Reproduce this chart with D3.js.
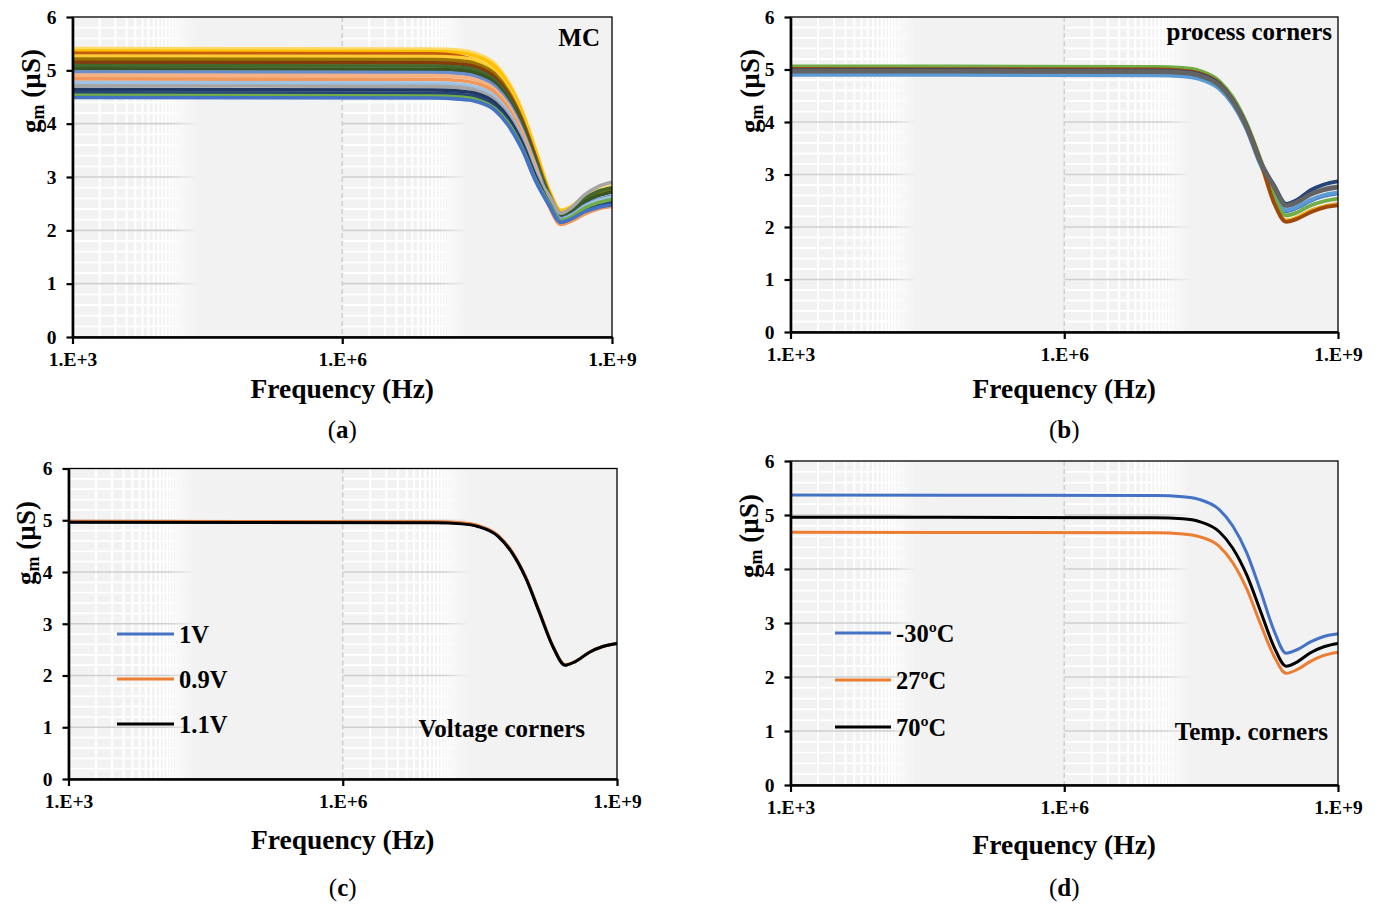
<!DOCTYPE html>
<html>
<head>
<meta charset="utf-8">
<script src="https://cdn.jsdelivr.net/npm/d3@7"></script>
<style>
  body { margin: 0; background: #fff; }
  svg text { font-family: "Liberation Serif", "Times New Roman", serif; fill: #000; }
</style>
</head>
<body>
<svg id="fig" width="1379" height="904"></svg>
<script>
// ---- shared axes -------------------------------------------------------
const freq = [1e3, 1e7, 2e7, 3e7, 5e7, 7e7, 1e8, 1.4e8, 2e8, 2.7e8, 3.5e8, 5e8, 7e8, 1e9];
const xTicks = [1e3, 1e6, 1e9];
const xTickLabels = ["1.E+3", "1.E+6", "1.E+9"];
const yTicks = [0, 1, 2, 3, 4, 5, 6];

// ---- (a) Monte Carlo runs, gm in µS ---------------------------------------
const mcColors = ["#FFD966", "#FFC000", "#C55A11", "#FFCD33", "#997300", "#843C0C", "#43682B", "#375623",
                  "#698ED0", "#F4B183", "#F1975A", "#9DC3E6", "#A5A5A5", "#203864", "#264478", "#70AD47", "#4472C4"];
const mcRuns = [
  [5.41, 5.40, 5.38, 5.32, 5.12, 4.79, 4.25, 3.54, 2.76, 2.38, 2.45, 2.64, 2.76, 2.82],
  [5.36, 5.35, 5.33, 5.27, 5.07, 4.75, 4.21, 3.51, 2.74, 2.36, 2.43, 2.61, 2.72, 2.78],
  [5.32, 5.31, 5.27, 5.18, 4.92, 4.52, 3.92, 3.20, 2.50, 2.22, 2.28, 2.45, 2.55, 2.60],
  [5.27, 5.26, 5.24, 5.19, 4.98, 4.67, 4.14, 3.45, 2.70, 2.33, 2.40, 2.59, 2.70, 2.76],
  [5.21, 5.20, 5.18, 5.13, 4.93, 4.61, 4.09, 3.41, 2.69, 2.32, 2.39, 2.57, 2.68, 2.74],
  [5.15, 5.14, 5.12, 5.07, 4.87, 4.56, 4.04, 3.37, 2.56, 2.20, 2.26, 2.43, 2.53, 2.58],
  [5.09, 5.08, 5.06, 5.01, 4.81, 4.51, 3.99, 3.33, 2.66, 2.30, 2.38, 2.60, 2.73, 2.80],
  [5.03, 5.02, 5.00, 4.95, 4.76, 4.45, 3.95, 3.29, 2.61, 2.26, 2.34, 2.53, 2.65, 2.72],
  [4.97, 4.96, 4.94, 4.89, 4.70, 4.40, 3.90, 3.25, 2.57, 2.22, 2.29, 2.47, 2.58, 2.64],
  [4.91, 4.90, 4.88, 4.83, 4.64, 4.35, 3.85, 3.21, 2.49, 2.14, 2.20, 2.35, 2.45, 2.50],
  [4.84, 4.83, 4.81, 4.76, 4.58, 4.28, 3.80, 3.16, 2.45, 2.11, 2.17, 2.31, 2.40, 2.45],
  [4.77, 4.76, 4.74, 4.69, 4.51, 4.22, 3.74, 3.12, 2.54, 2.20, 2.27, 2.45, 2.56, 2.62],
  [4.71, 4.70, 4.68, 4.63, 4.45, 4.17, 3.70, 3.08, 2.65, 2.32, 2.42, 2.67, 2.82, 2.90],
  [4.64, 4.63, 4.61, 4.57, 4.39, 4.11, 3.64, 3.03, 2.51, 2.18, 2.24, 2.40, 2.50, 2.55],
  [4.58, 4.57, 4.55, 4.51, 4.33, 4.05, 3.59, 2.99, 2.48, 2.16, 2.22, 2.37, 2.47, 2.52],
  [4.53, 4.52, 4.50, 4.46, 4.28, 4.01, 3.55, 2.96, 2.50, 2.18, 2.25, 2.42, 2.52, 2.58],
  [4.49, 4.48, 4.46, 4.42, 4.25, 3.97, 3.52, 2.94, 2.47, 2.15, 2.21, 2.35, 2.43, 2.48]
];

// ---- (b) process corners ----------------------------------------------
const cornerColors = ["#4472C4", "#ED7D31", "#A5A5A5", "#FFC000", "#5B9BD5", "#70AD47", "#9E480E", "#264478", "#636363"];
const cornerRuns = [
  [4.93, 4.92, 4.90, 4.85, 4.66, 4.36, 3.87, 3.22, 2.65, 2.30, 2.36, 2.50, 2.59, 2.64],
  [4.98, 4.97, 4.95, 4.90, 4.71, 4.41, 3.91, 3.26, 2.47, 2.12, 2.17, 2.31, 2.39, 2.44],
  [5.00, 4.99, 4.97, 4.92, 4.73, 4.43, 3.92, 3.27, 2.75, 2.40, 2.46, 2.63, 2.73, 2.78],
  [4.96, 4.95, 4.93, 4.88, 4.69, 4.39, 3.89, 3.24, 2.47, 2.12, 2.17, 2.30, 2.38, 2.42],
  [4.90, 4.89, 4.87, 4.82, 4.63, 4.34, 3.85, 3.20, 2.67, 2.32, 2.38, 2.52, 2.61, 2.66],
  [5.06, 5.05, 5.03, 4.98, 4.78, 4.48, 3.97, 3.31, 2.58, 2.22, 2.27, 2.41, 2.49, 2.54],
  [5.01, 5.00, 4.98, 4.93, 4.74, 4.43, 3.93, 3.28, 2.45, 2.10, 2.15, 2.28, 2.37, 2.41],
  [4.99, 4.98, 4.96, 4.91, 4.72, 4.42, 3.92, 3.26, 2.79, 2.44, 2.51, 2.70, 2.81, 2.87],
  [4.97, 4.96, 4.94, 4.89, 4.70, 4.40, 3.90, 3.25, 2.76, 2.41, 2.47, 2.62, 2.71, 2.76]
];

// ---- (c) supply voltage corners -------------------------------------------
const voltageLabels = ["1V", "0.9V", "1.1V"];
const voltageColors = ["#4472C4", "#ED7D31", "#000000"];
const gm1V  = [4.97, 4.96, 4.94, 4.89, 4.70, 4.40, 3.90, 3.25, 2.55, 2.20, 2.27, 2.45, 2.56, 2.62];
const gm09V = [4.98, 4.97, 4.95, 4.90, 4.71, 4.41, 3.91, 3.26, 2.56, 2.21, 2.27, 2.45, 2.56, 2.62];
const gm11V = [4.96, 4.95, 4.93, 4.88, 4.69, 4.39, 3.89, 3.24, 2.55, 2.20, 2.27, 2.45, 2.56, 2.62];

// ---- (d) temperature corners ---------------------------------------------
const tempLabels = ["-30ºC", "27ºC", "70ºC"];
const tempColors = ["#4472C4", "#ED7D31", "#000000"];
const gmM30C = [5.37, 5.36, 5.34, 5.29, 5.10, 4.80, 4.30, 3.62, 2.85, 2.44, 2.50, 2.65, 2.75, 2.80];
const gm27C  = [4.68, 4.67, 4.65, 4.60, 4.42, 4.12, 3.63, 3.00, 2.38, 2.07, 2.13, 2.29, 2.40, 2.46];
const gm70C  = [4.96, 4.95, 4.93, 4.88, 4.69, 4.39, 3.89, 3.24, 2.55, 2.20, 2.27, 2.45, 2.56, 2.62];

// ---- drawing ------------------------------------------------------------
const svg = d3.select("#fig");
const defs = svg.append("defs");
const FONT = '"Liberation Serif", "Times New Roman", serif';

function drawPanel(cfg) {
  const x = d3.scaleLog().domain([1e3, 1e9]).range([cfg.left, cfg.right]);
  const y = d3.scaleLinear().domain([0, 6]).range([cfg.bottom, cfg.top]);
  const g = svg.append("g");
  const w = cfg.right - cfg.left, h = cfg.bottom - cfg.top;

  // plot area fill
  g.append("rect").attr("x", cfg.left).attr("y", cfg.top).attr("width", w).attr("height", h)
    .attr("fill", "#f2f2f2");

  // grid fades out within each 1000x decade as the minor lines crowd together
  const mask = defs.append("mask").attr("id", cfg.id + "-fade")
    .attr("maskUnits", "userSpaceOnUse").attr("x", 0).attr("y", 0).attr("width", 1379).attr("height", 904);
  xTicks.slice(0, -1).forEach((s, i) => {
    const gid = cfg.id + "-grad" + i;
    const grad = defs.append("linearGradient").attr("id", gid).attr("gradientUnits", "userSpaceOnUse")
      .attr("x1", x(s * 12)).attr("x2", x(s * 24)).attr("y1", 0).attr("y2", 0);
    grad.append("stop").attr("offset", 0).attr("stop-color", "#fff");
    grad.append("stop").attr("offset", 1).attr("stop-color", "#000");
    mask.append("rect").attr("x", x(s)).attr("y", cfg.top).attr("width", x(s * 1000) - x(s))
      .attr("height", h).attr("fill", `url(#${gid})`);
  });
  const grid = g.append("g").attr("mask", `url(#${cfg.id}-fade)`);
  const minorY = d3.range(1, 30).map(i => i * 0.2).filter(v => Math.abs(v - Math.round(v)) > 1e-6);
  const minorX = [];
  xTicks.slice(0, -1).forEach(s => { for (let k = 2; k <= 30; k++) minorX.push(s * k); });
  grid.selectAll(".mx").data(minorX).join("line")
    .attr("x1", d => x(d)).attr("x2", d => x(d)).attr("y1", cfg.top).attr("y2", cfg.bottom)
    .attr("stroke", "#fff").attr("stroke-width", 2);
  grid.selectAll(".my").data(minorY).join("line")
    .attr("x1", cfg.left).attr("x2", cfg.right).attr("y1", d => y(d)).attr("y2", d => y(d))
    .attr("stroke", "#fff").attr("stroke-width", 1.8);
  grid.selectAll(".My").data(yTicks.slice(1, -1)).join("line")
    .attr("x1", cfg.left).attr("x2", cfg.right).attr("y1", d => y(d)).attr("y2", d => y(d))
    .attr("stroke", "#cfcfcf").attr("stroke-width", 1.7);
  // major vertical at 1.E+6
  g.selectAll(".Mx").data(xTicks.slice(1, -1)).join("line")
    .attr("x1", d => x(d)).attr("x2", d => x(d)).attr("y1", cfg.top).attr("y2", cfg.bottom)
    .attr("stroke", "#d2d2d2").attr("stroke-width", 1.7).attr("stroke-dasharray", "5,3");

  // curves
  const line = d3.line().x(d => x(d[0])).y(d => y(d[1])).curve(d3.curveMonotoneX);
  cfg.series.forEach(s => {
    g.append("path").datum(freq.map((f, i) => [f, s.values[i]]))
      .attr("d", line).attr("fill", "none").attr("stroke", s.color)
      .attr("stroke-width", s.width).attr("stroke-linejoin", "round");
  });

  // thin plot border (top/right)
  g.append("rect").attr("x", cfg.left).attr("y", cfg.top).attr("width", w).attr("height", h)
    .attr("fill", "none").attr("stroke", "#000").attr("stroke-width", 1.3);

  // axes
  const ya = g.append("g").attr("transform", `translate(${cfg.left},0)`)
    .call(d3.axisLeft(y).tickValues(yTicks).tickFormat(d3.format("d"))
      .tickSize(6).tickSizeOuter(0).tickPadding(10));
  const xa = g.append("g").attr("transform", `translate(0,${cfg.bottom})`)
    .call(d3.axisBottom(x).tickValues(xTicks).tickFormat((d, i) => xTickLabels[i])
      .tickSize(7).tickSizeOuter(0).tickPadding(8));
  [ya, xa].forEach(a => {
    a.attr("font-family", FONT).attr("font-size", 19.5);
    a.select(".domain").attr("stroke", "#000").attr("stroke-width", 2.6);
    a.selectAll(".tick line").attr("stroke", "#000").attr("stroke-width", 2.2);
    a.selectAll(".tick text").attr("fill", "#000").attr("font-weight", "bold");
  });

  // axis titles
  const midX = (cfg.left + cfg.right) / 2;
  g.append("text").attr("x", midX).attr("y", cfg.titleY).attr("text-anchor", "middle")
    .attr("font-size", 27.5).attr("font-weight", "bold").text("Frequency (Hz)");
  const yl = g.append("text").attr("transform", `translate(${cfg.ylX},${cfg.ylY}) rotate(-90)`)
    .attr("text-anchor", "middle").attr("font-size", 27).attr("font-weight", "bold");
  yl.append("tspan").text("g");
  yl.append("tspan").attr("font-size", 18).attr("dy", 4).text("m");
  yl.append("tspan").attr("dy", -4).text(" (µS)");

  // sub-figure tag
  const tag = g.append("text").attr("x", midX).attr("y", cfg.tagY).attr("text-anchor", "middle").attr("font-size", 25);
  tag.append("tspan").text("(");
  tag.append("tspan").attr("font-weight", "bold").text(cfg.tag);
  tag.append("tspan").text(")");

  // annotation
  g.append("text").attr("x", cfg.noteX).attr("y", cfg.noteY).attr("text-anchor", cfg.noteAnchor)
    .attr("font-size", 25).attr("font-weight", "bold").text(cfg.note);

  // legend
  if (cfg.legend) {
    cfg.legend.labels.forEach((lab, i) => {
      const ly = cfg.legend.y[i];
      g.append("line").attr("x1", cfg.legend.x1).attr("x2", cfg.legend.x2).attr("y1", ly).attr("y2", ly)
        .attr("stroke", cfg.legend.colors[i]).attr("stroke-width", 3.2);
      g.append("text").attr("x", cfg.legend.x2 + 5).attr("y", ly + 9)
        .attr("font-size", 24.5).attr("font-weight", "bold").text(lab);
    });
  }
}

drawPanel({
  id: "pa", left: 72.5, right: 612, top: 17, bottom: 337,
  titleY: 398, ylX: 40, ylY: 91, tagY: 438, tag: "a",
  note: "MC", noteX: 600, noteY: 46, noteAnchor: "end",
  series: mcRuns.map((v, i) => ({ values: v, color: mcColors[i], width: 3.6 }))
});

drawPanel({
  id: "pb", left: 790.5, right: 1338, top: 17, bottom: 332,
  titleY: 398, ylX: 759, ylY: 91, tagY: 438, tag: "b",
  note: "process corners", noteX: 1332, noteY: 40, noteAnchor: "end",
  series: cornerRuns.map((v, i) => ({ values: v, color: cornerColors[i], width: i === 8 ? 4.6 : 3.8 }))
});

drawPanel({
  id: "pc", left: 68.5, right: 617, top: 468.5, bottom: 779,
  titleY: 849, ylX: 35, ylY: 543, tagY: 896, tag: "c",
  note: "Voltage corners", noteX: 585, noteY: 737, noteAnchor: "end",
  series: [gm1V, gm09V, gm11V].map((v, i) => ({ values: v, color: voltageColors[i], width: 3 })),
  legend: { labels: voltageLabels, colors: voltageColors, x1: 117, x2: 174, y: [634, 679, 724] }
});

drawPanel({
  id: "pd", left: 790.5, right: 1338, top: 461, bottom: 785,
  titleY: 854, ylX: 758, ylY: 536, tagY: 896, tag: "d",
  note: "Temp. corners", noteX: 1328, noteY: 740, noteAnchor: "end",
  series: [gmM30C, gm27C, gm70C].map((v, i) => ({ values: v, color: tempColors[i], width: 3 })),
  legend: { labels: tempLabels, colors: tempColors, x1: 835, x2: 891, y: [633, 680, 727] }
});
</script>
</body>
</html>
